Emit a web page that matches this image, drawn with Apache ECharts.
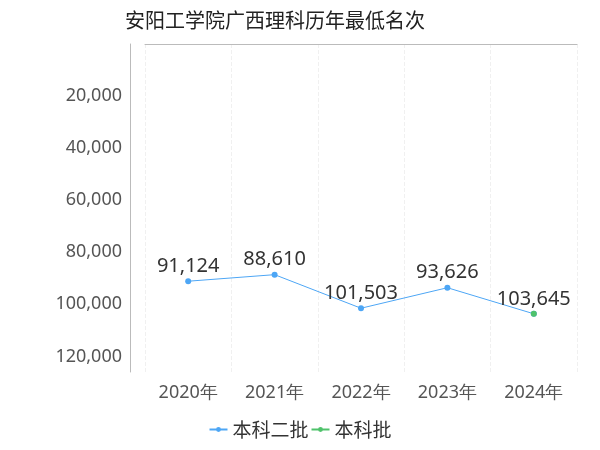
<!DOCTYPE html>
<html><head><meta charset="utf-8">
<script src="https://cdn.jsdelivr.net/npm/echarts@6/dist/echarts.min.js"></script>
<style>html,body{margin:0;padding:0}#c{width:600px;height:450px}</style>
</head><body><div id="c"></div>
<script>
const years = ['2020年','2021年','2022年','2023年','2024年'];
const erpi = [91124, 88610, 101503, 93626, 103645];
const benke = [null, null, null, null, 103645];
const chart = echarts.init(document.getElementById('c'));
const fmt = v => v.toLocaleString('en-US');
const F = "'Noto Sans','Open Sans',sans-serif";
chart.setOption({
  textStyle:{fontFamily:F},
  title:{text:'安阳工学院广西理科历年最低名次',left:120,top:5,textStyle:{fontSize:20,fontWeight:'normal',color:'#222',fontFamily:"'Noto Sans CJK SC',sans-serif"}},
  grid:{left:145,right:23,top:44,bottom:78},
  legend:{bottom:6,left:'center',itemGap:2,itemWidth:18,itemHeight:6,textStyle:{fontSize:19,color:'#333',fontFamily:"'Noto Sans CJK SC',sans-serif"},data:['本科二批','本科批']},
  xAxis:{type:'category',data:years,boundaryGap:true,position:'bottom',
    axisLine:{lineStyle:{color:'#bbb'}},axisTick:{show:false},
    axisLabel:{fontSize:18,color:'#555',margin:12},
    splitLine:{show:true,lineStyle:{color:'#f0f0f0',type:'dashed'}}},
  yAxis:{type:'value',inverse:true,min:0,max:126000,interval:20000,offset:15,
    axisLine:{show:true,lineStyle:{color:'#bbb'}},axisTick:{show:false},
    axisLabel:{fontSize:18,color:'#555',margin:8,formatter:v=>v===0?'':fmt(v),showMaxLabel:false},
    splitLine:{show:false}},
  series:[
    {name:'本科二批',type:'line',data:erpi,symbol:'circle',symbolSize:6,
     itemStyle:{color:'#4da6f5'},lineStyle:{width:1},
     label:{show:true,position:'top',distance:2,fontSize:20,color:'#333',
       formatter:p=>p.dataIndex===4?'':fmt(p.value)}},
    {name:'本科批',type:'line',data:benke,symbol:'circle',symbolSize:6,
     itemStyle:{color:'#4fc26b'},
     label:{show:true,position:'top',distance:2,fontSize:20,color:'#333',formatter:p=>fmt(p.value)}}
  ]
});
</script></body></html>
